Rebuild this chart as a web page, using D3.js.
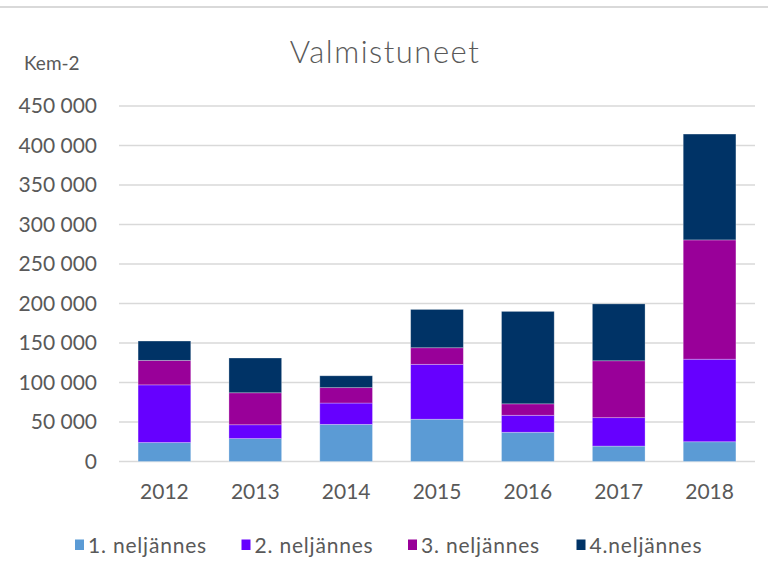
<!DOCTYPE html>
<html><head><meta charset="utf-8">
<script src="https://cdn.jsdelivr.net/npm/d3@7"></script>
<style>body{margin:0;background:#fff}svg{display:block}text{font-family:Lato,"Open Sans",sans-serif;fill:#595959}</style>
</head><body><svg id="c" width="768" height="580"></svg>
<script>
const years = ["2012","2013","2014","2015","2016","2017","2018"];
const seriesNames = ["1. neljännes","2. neljännes","3. neljännes","4.neljännes"];
const q1 = [24000, 29000, 47000, 53500, 37000, 19500, 25000];
const q2 = [73000, 17500, 27000, 69500, 21500, 36000, 104500];
const q3 = [31000, 40500, 19500, 21000, 14500, 72000, 151000];
const q4 = [24500, 44000, 15000, 48500, 117000, 72000, 134000];
const yTicks = [0,50000,100000,150000,200000,250000,300000,350000,400000,450000];
const colors = ["#5b9bd5","#6600ff","#990099","#003366"];

const svg = d3.select("#c");
const W=768,H=580;
const m = {l:119, r:13};
const x = d3.scaleBand().domain(years).range([m.l, W-m.r]).paddingInner(0.42).paddingOuter(0.21);
const y = d3.scaleLinear().domain([0,450000]).range([461.5, 106]);
const loc = d3.formatLocale({decimal:",", thousands:"\u00a0", grouping:[3], currency:["","€"]});
const fmt = loc.format(",d");
const FS = "21px";

svg.append("line").attr("x1",0).attr("x2",W).attr("y1",7).attr("y2",7).attr("stroke","#d9d9d9").attr("stroke-width",2);

// grid
svg.append("g").selectAll("line").data(yTicks).join("line")
  .attr("x1",m.l).attr("x2",W-m.r).attr("y1",d=>y(d)).attr("y2",d=>y(d))
  .attr("stroke","#d9d9d9").attr("stroke-width",1.5);

// y axis
const ya = svg.append("g").attr("transform",`translate(${m.l},0)`)
  .call(d3.axisLeft(y).tickValues(yTicks).tickFormat(fmt).tickSize(0).tickPadding(22));
ya.select(".domain").remove();
ya.selectAll("text").style("font-size",FS).style("fill","#595959").style("font-family","Lato,sans-serif");

// stack
const table = years.map((yr,i)=>({year:yr, s0:q1[i], s1:q2[i], s2:q3[i], s3:q4[i]}));
const stack = d3.stack().keys(["s0","s1","s2","s3"])(table);
svg.append("g").selectAll("g").data(stack).join("g").attr("fill",(d,i)=>colors[i])
  .selectAll("rect").data(d=>d).join("rect")
  .attr("x",d=>x(d.data.year)).attr("width",x.bandwidth())
  .attr("y",d=>y(d[1])).attr("height",d=>y(d[0])-y(d[1]))
  .attr("stroke","#ffffff").attr("stroke-opacity",0.35).attr("stroke-width",0.8);

// x axis
const xa = svg.append("g").attr("transform",`translate(0,${y(0)})`)
  .call(d3.axisBottom(x).tickSize(0).tickPadding(23));
xa.select(".domain").remove();
xa.selectAll("text").style("font-size",FS).style("fill","#595959").style("font-family","Lato,sans-serif");

// title
svg.append("text").attr("x",385).attr("y",62.5).attr("text-anchor","middle")
  .style("font-size","31px").style("font-weight",300).style("letter-spacing","1.5px").text("Valmistuneet");
svg.append("text").attr("x",24).attr("y",70).style("font-size","19px").text("Kem-2");

// legend
const legX = [75, 241.5, 408, 576.5];
const lg = svg.append("g").selectAll("g").data(seriesNames).join("g")
  .attr("transform",(d,i)=>`translate(${legX[i]},0)`);
lg.append("rect").attr("x",0).attr("y",539.5).attr("width",9).attr("height",10.5).attr("fill",(d,i)=>colors[i]);
lg.append("text").attr("x",13).attr("y",553).style("font-size",FS).style("letter-spacing","0.8px").text(d=>d);
</script></body></html>
